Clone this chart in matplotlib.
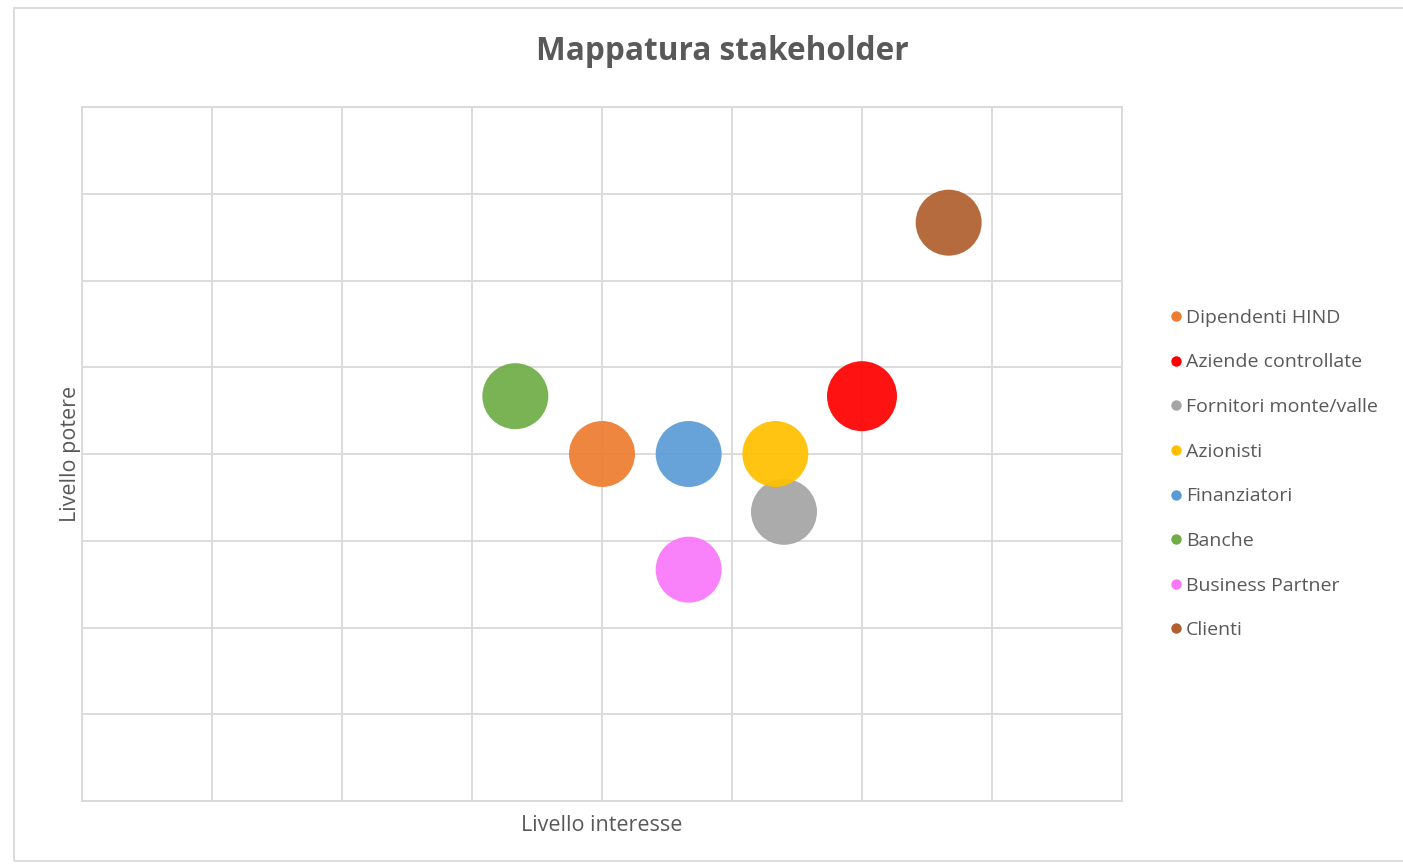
import matplotlib
matplotlib.use("Agg")
import matplotlib.pyplot as plt
from matplotlib.lines import Line2D
from matplotlib.patches import Rectangle

plt.rcParams['font.family'] = ['Open Sans', 'DejaVu Sans']

names = ["Dipendenti HIND", "Aziende controllate", "Fornitori monte/valle", "Azionisti",
         "Finanziatori", "Banche", "Business Partner", "Clienti"]
interesse = [6, 9, 8.1, 8, 7, 5, 7, 10]
potere = [6, 7, 5, 6, 6, 7, 4, 10]
bubble = [8, 9, 8, 8, 8, 8, 8, 8]
colors = ["#ED7D31", "#FF0000", "#A5A5A5", "#FFC000", "#5B9BD5", "#70AD47", "#F978F9", "#B0602E"]

fig = plt.figure(figsize=(14.03, 8.67), dpi=100)
ax = fig.add_axes([82/1403, 66/867, 1040/1403, 694/867])

for i in range(len(names)):
    ax.scatter(interesse[i], potere[i], s=bubble[i]*282, color=colors[i], alpha=0.93,
               edgecolors='none', zorder=3+i)

ax.set_xlim(0, 12)
ax.set_ylim(0, 12)
ax.set_xticks([i*1.5 for i in range(9)])
ax.set_yticks([i*1.5 for i in range(9)])
ax.tick_params(length=0, labelbottom=False, labelleft=False)
ax.grid(True, color="#D9D9D9", linewidth=1.3, zorder=0)
ax.set_axisbelow(True)
for sp in ax.spines.values():
    sp.set_color("#D9D9D9")
    sp.set_linewidth(1.3)

ax.set_xlabel("Livello interesse", fontsize=15.5, color="#595959", labelpad=10)
ax.set_ylabel("Livello potere", fontsize=15.5, color="#595959", labelpad=1)
fig.text(722/1403, 1 - 52/867, "Mappatura stakeholder", fontsize=22.7, fontweight='bold',
         color="#595959", ha='center', va='center')

handles = [Line2D([], [], marker='o', linestyle='none', markersize=7.5,
                  markerfacecolor=c, markeredgecolor='none') for c in colors]
fig.legend(handles, names, loc='upper left', bbox_to_anchor=(1158/1403, 1 - 301/867),
           frameon=False, fontsize=14, labelcolor="#595959", labelspacing=1.37,
           handletextpad=0.05, handlelength=1.0, borderaxespad=0)

fig.patches.append(Rectangle((14/1403, 1 - 861/867), 1.0, 853/867, transform=fig.transFigure,
                             fill=False, edgecolor="#D9D9D9", linewidth=1.3))

fig.savefig("out.png", dpi=100)
